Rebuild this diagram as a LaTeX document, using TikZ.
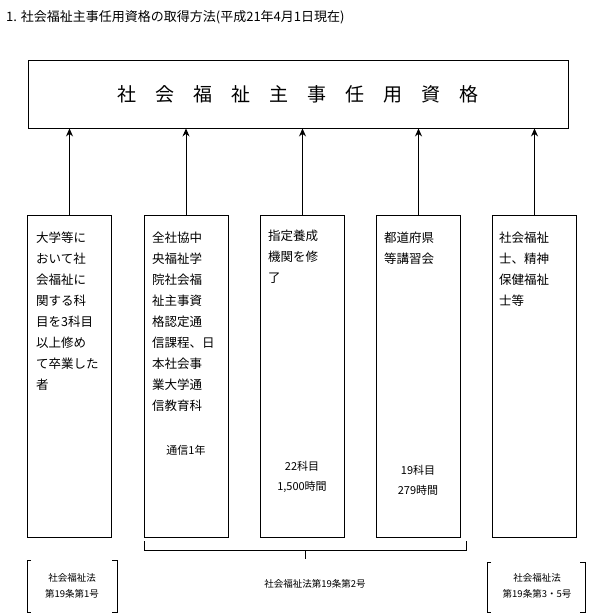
\documentclass[tikz,border=0pt]{standalone}
\usepackage{fontspec}
\setmainfont{Noto Sans CJK JP}
\usetikzlibrary{arrows.meta}
\begin{document}
\begin{tikzpicture}[x=1pt,y=-1pt,
 box/.style={draw,line width=0.9pt},
 txt/.style={anchor=north west,align=left,font=\fontsize{12.5}{21}\selectfont,inner sep=0pt},
 ctxt/.style={align=center,font=\fontsize{11}{20}\selectfont,inner sep=0pt},
 small/.style={align=center,font=\fontsize{9.5}{16}\selectfont,inner sep=0pt},
 arr/.style={-{Stealth[length=8pt,width=7pt]},line width=1pt}]
\useasboundingbox (0,0) rectangle (600,615);
\node[anchor=west,inner sep=0pt,font=\fontsize{13}{14}\selectfont] (title) at (6,17) {1. 社会福祉主事任用資格の取得方法(平成21年4月1日現在)};
\node[box,minimum width=540pt,minimum height=68pt,font=\fontsize{19}{20}\selectfont] (top) at (298,94) {社\hspace{1em}会\hspace{1em}福\hspace{1em}祉\hspace{1em}主\hspace{1em}事\hspace{1em}任\hspace{1em}用\hspace{1em}資\hspace{1em}格};
\foreach \n/\x in {b1/69.5,b2/186,b3/302.5,b4/418.5,b5/534.5}{
 \node[box,minimum width=84pt,minimum height=322pt,inner sep=0pt] (\n) at (\x,376) {};
 \draw[arr] (\n.north) -- (\n.north |- top.south);
}
\node[txt] (t1) at (36,232) {大学等に\\おいて社\\会福祉に\\関する科\\目を3科目\\以上修め\\て卒業した\\者};
\node[txt] (t2) at (152,232) {全社協中\\央福祉学\\院社会福\\祉主事資\\格認定通\\信課程、日\\本社会事\\業大学通\\信教育科};
\node[txt] (t3) at (268,230) {指定養成\\機関を修\\了};
\node[txt] (t4) at (384,232) {都道府県\\等講習会};
\node[txt] (t5) at (499,232) {社会福祉\\士、精神\\保健福祉\\士等};
\node[ctxt] (c2) at (186,450) {通信1年};
\node[ctxt] (c3) at (302,477) {22科目\\1,500時間};
\node[ctxt] (c4) at (418,480) {19科目\\279時間};
\coordinate (bl) at (144,541); \coordinate (br) at (466,541);
\draw[line width=0.9pt] (bl) -- ++(0,9) -- (305,550) -- (305,559) (305,550) -- (466,550) -- (br);
\node[small] (mid) at (315,584) {社会福祉法第19条第2号};
\node[small] (l1) at (72,586) {社会福祉法\\第19条第1号};
\draw[line width=0.9pt] (31,560) -- (27,560) -- (27,612) -- (31,612) (112,560) -- (117,560) -- (117,612) -- (112,612);
\node[small] (l5) at (537,586) {社会福祉法\\第19条第3・5号};
\draw[line width=0.9pt] (491,562) -- (487,562) -- (487,612) -- (491,612) (580,562) -- (585,562) -- (585,612) -- (580,612);
\end{tikzpicture}
\end{document}
